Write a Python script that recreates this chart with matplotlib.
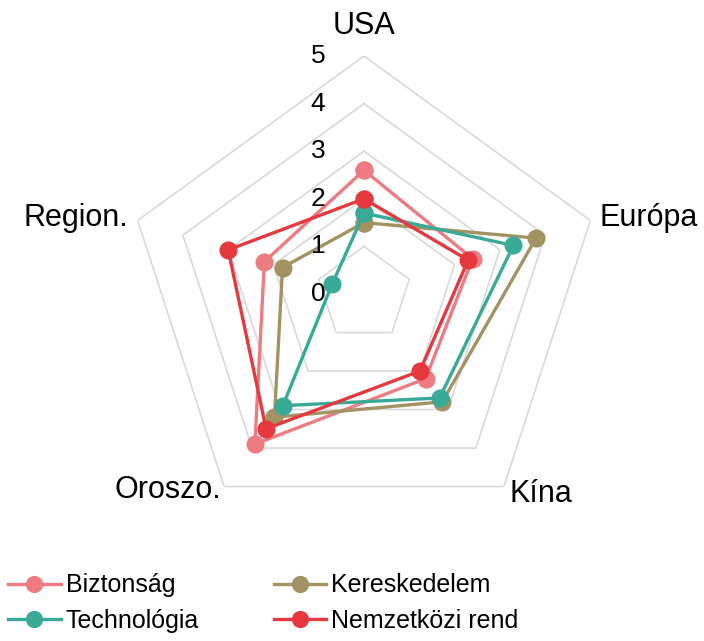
import numpy as np
import matplotlib
matplotlib.use("Agg")
import matplotlib.pyplot as plt

plt.rcParams['font.family'] = ['Liberation Sans', 'DejaVu Sans']

categories = ["USA", "Európa", "Kína", "Oroszo.", "Region."]
series_names = ["Biztonság", "Technológia", "Kereskedelem", "Nemzetközi rend"]
biztonsag = [2.6, 2.4, 2.2, 3.9, 2.2]
technologia = [1.7, 3.3, 2.7, 2.9, 0.7]
kereskedelem = [1.5, 3.8, 2.8, 3.2, 1.8]
nemzetkozi = [2.0, 2.3, 2.0, 3.5, 3.0]
radial_ticks = [0, 1, 2, 3, 4, 5]

colors = {"Biztonság": "#EE7B81", "Technológia": "#38AA96",
          "Kereskedelem": "#A39262", "Nemzetközi rend": "#E5393F"}
values = {"Biztonság": biztonsag, "Technológia": technologia,
          "Kereskedelem": kereskedelem, "Nemzetközi rend": nemzetkozi}

n = len(categories)
angles = np.linspace(0, 2 * np.pi, n, endpoint=False)
ang_closed = np.concatenate([angles, angles[:1]])

W, H = 704, 641
fig = plt.figure(figsize=(W / 100, H / 100), dpi=100)
cx, cy, R = 364, 294, 238
ax = fig.add_axes([(cx - R) / W, (H - cy - R) / H, 2 * R / W, 2 * R / H], projection='polar')
ax.set_theta_offset(np.pi / 2)
ax.set_theta_direction(-1)
ax.set_ylim(0, 5)
ax.grid(False)
ax.set_xticks([])
ax.set_yticks([])
ax.spines['polar'].set_visible(False)
ax.patch.set_visible(False)

# pentagon grid
for lvl in radial_ticks[1:]:
    ax.plot(ang_closed, [lvl] * (n + 1), color="#D9D9D9", lw=1.2, zorder=1)

# series (draw order for overlaps)
handles = {}
for name in ["Biztonság", "Kereskedelem", "Technológia", "Nemzetközi rend"]:
    v = values[name]
    h, = ax.plot(ang_closed, v + v[:1], color=colors[name], lw=2.4,
                 marker='o', markersize=12, label=name, zorder=3, clip_on=False)
    handles[name] = h

# radial tick labels
for lvl in radial_ticks:
    ax.annotate(str(lvl), xy=(0, lvl), xytext=(-33, 0), textcoords='offset points',
                ha='center', va='center', fontsize=19, zorder=5, annotation_clip=False)

# category labels
label_pos = [(5.63, 'center'), (5.2, 'left'), (5.2, 'left'), (5.1, 'right'), (5.2, 'right')]
for a, cat, (r, ha) in zip(angles, categories, label_pos):
    ax.text(a, r, cat, ha=ha, va='center', fontsize=22, clip_on=False)

leg = fig.legend([handles[s] for s in series_names], series_names, ncol=2,
                 loc='center left', bbox_to_anchor=(8 / W, 1 - 603 / H),
                 frameon=False, fontsize=18, handlelength=2.1, handletextpad=0.2,
                 columnspacing=3.0, labelspacing=0.45, borderpad=0, borderaxespad=0,
                 markerscale=0.95)

fig.savefig("out.png", dpi=100)
